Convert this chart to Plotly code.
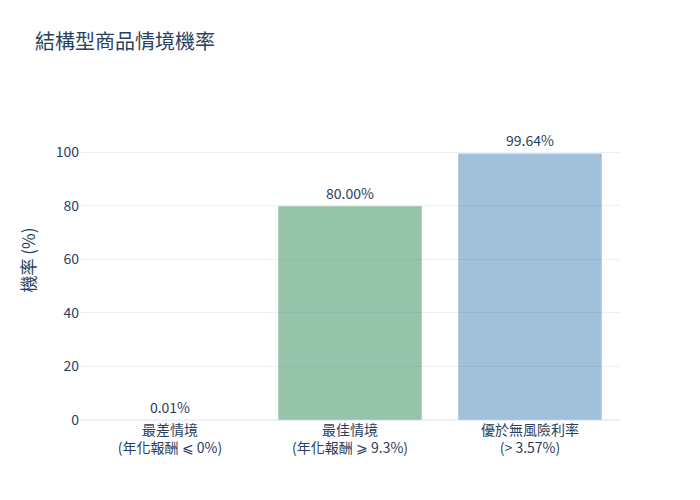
import plotly.graph_objects as go

# 情境類別與機率
scenarios = ["最差情境<br>(年化報酬 ⩽ 0%)", "最佳情境<br>(年化報酬 ⩾ 9.3%)", "優於無風險利率<br>(> 3.57%)"]
probabilities = [0.01, 80.00, 99.64]
bar_colors = ["#B22222", "#2E8B57", "#4682B4"]

fig = go.Figure(go.Bar(
    x=scenarios,
    y=probabilities,
    marker=dict(color=bar_colors, opacity=0.5),
    text=[f"{p:.2f}%" for p in probabilities],
    textposition="outside",
))

# 頁面有 8px 邊距，整體尺寸與邊界相應縮減
fig.update_layout(
    template="plotly_white",
    title=dict(text="結構型商品情境機率", x=0.039, y=0.931, yanchor="middle"),
    font=dict(family="Noto Sans CJK TC", size=14),
    yaxis_title="機率 (%)",
    yaxis_range=[0, max(probabilities) * 1.2],
    width=692,
    height=492,
    margin=dict(l=72, r=80, t=92, b=80),
)

fig.write_html("out.html")
